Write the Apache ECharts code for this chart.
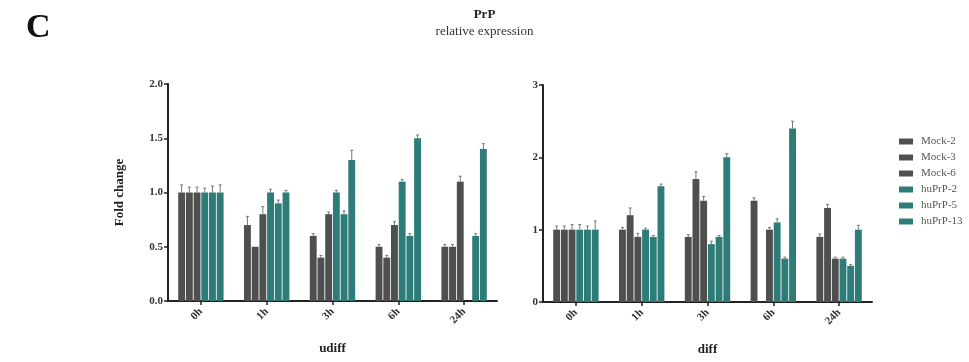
<!DOCTYPE html>
<html>
<head>
<meta charset="utf-8">
<script src="https://cdn.jsdelivr.net/npm/echarts@6/dist/echarts.min.js"></script>
<style>
  html, body { margin: 0; padding: 0; background: #fff; }
  #chart { width: 969px; height: 362px; }
</style>
</head>
<body>
<div id="chart"></div>
<script>
const categories = ['0h', '1h', '3h', '6h', '24h']
const seriesNames = ['Mock-2', 'Mock-3', 'Mock-6', 'huPrP-2', 'huPrP-5', 'huPrP-13']

// udiff (left panel)
const udiffValues = [
  [1.0, 0.7, 0.6, 0.5, 0.5], // Mock-2
  [1.0, 0.5, 0.4, 0.4, 0.5], // Mock-3
  [1.0, 0.8, 0.8, 0.7, 1.1], // Mock-6
  [1.0, 1.0, 1.0, 1.1, null], // huPrP-2
  [1.0, 0.9, 0.8, 0.6, 0.6], // huPrP-5
  [1.0, 1.0, 1.3, 1.5, 1.4] // huPrP-13
]
const udiffErrors = [
  [0.07, 0.08, 0.02, 0.02, 0.02],
  [0.05, 0.0, 0.02, 0.02, 0.02],
  [0.05, 0.07, 0.02, 0.03, 0.05],
  [0.04, 0.03, 0.02, 0.02, 0.0],
  [0.06, 0.03, 0.03, 0.02, 0.02],
  [0.07, 0.02, 0.09, 0.03, 0.05]
]

// diff (right panel)
const diffValues = [
  [1.0, 1.0, 0.9, 1.4, 0.9],
  [1.0, 1.2, 1.7, null, 1.3],
  [1.0, 0.9, 1.4, 1.0, 0.6],
  [1.0, 1.0, 0.8, 1.1, 0.6],
  [1.0, 0.9, 0.9, 0.6, 0.5],
  [1.0, 1.6, 2.0, 2.4, 1.0]
]
const diffErrors = [
  [0.05, 0.03, 0.03, 0.04, 0.04],
  [0.05, 0.1, 0.1, 0.0, 0.05],
  [0.07, 0.05, 0.06, 0.03, 0.02],
  [0.07, 0.02, 0.04, 0.05, 0.02],
  [0.05, 0.02, 0.02, 0.02, 0.02],
  [0.12, 0.03, 0.05, 0.1, 0.06]
]

const leftTicks = [0, 0.5, 1.0, 1.5, 2.0]
const rightTicks = [0, 1, 2, 3]

const GRAY = '#4f4f4f'
const TEAL = '#2e7c77'
const colors = [GRAY, GRAY, GRAY, TEAL, TEAL, TEAL]
const FONT = '"Liberation Serif", "DejaVu Serif", serif'
const CAT_GAP = 0.31
const BAR_GAP = 0.12

function errorSeries (values, errors, i, axisIdx) {
  const data = []
  values[i].forEach((v, c) => {
    if (v !== null && errors[i][c] > 0) data.push([c, v, errors[i][c]])
  })
  return {
    type: 'custom',
    xAxisIndex: axisIdx,
    yAxisIndex: axisIdx,
    silent: true,
    z: 1,
    data: data,
    renderItem (params, api) {
      const c = api.value(0)
      const v = api.value(1)
      const e = api.value(2)
      const base = api.coord([c, v])
      const top = api.coord([c, v + e])
      const band = api.size([1, 0])[0]
      const groupW = band * (1 - CAT_GAP)
      const w = groupW / (6 + 5 * BAR_GAP)
      const x = base[0] - groupW / 2 + w / 2 + i * w * (1 + BAR_GAP)
      const style = { stroke: '#777', lineWidth: 1 }
      return {
        type: 'group',
        children: [
          { type: 'line', shape: { x1: x, y1: base[1], x2: x, y2: top[1] }, style },
          { type: 'line', shape: { x1: x - 1.5, y1: top[1], x2: x + 1.5, y2: top[1] }, style }
        ]
      }
    }
  }
}

const axisLine = { show: true, lineStyle: { color: '#222', width: 2 } }
const tickLabel = { color: '#333', fontFamily: FONT, fontWeight: 'bold', fontSize: 11 }

function xAxis (idx, name) {
  return {
    type: 'category',
    gridIndex: idx,
    data: categories,
    name: name,
    nameLocation: 'middle',
    nameGap: 41,
    nameTextStyle: { color: '#222', fontFamily: FONT, fontWeight: 'bold', fontSize: 13 },
    axisLine: axisLine,
    axisTick: { show: true, alignWithLabel: true, length: 4, lineStyle: { color: '#222', width: 1.5 } },
    axisLabel: Object.assign({ rotate: 45, margin: 9 }, tickLabel)
  }
}

function yAxis (idx, ticks, fmt, name) {
  return {
    type: 'value',
    gridIndex: idx,
    min: ticks[0],
    max: ticks[ticks.length - 1],
    interval: ticks[1] - ticks[0],
    name: name,
    nameLocation: 'middle',
    nameRotate: 90,
    nameGap: 42,
    nameTextStyle: { color: '#222', fontFamily: FONT, fontWeight: 'bold', fontSize: 13 },
    axisLine: axisLine,
    axisTick: { show: true, length: 4, lineStyle: { color: '#222', width: 1.5 } },
    splitLine: { show: false },
    axisLabel: Object.assign({ margin: 5, formatter: fmt }, tickLabel)
  }
}

const series = []
seriesNames.forEach((name, i) => {
  series.push({
    name: name,
    type: 'bar',
    xAxisIndex: 0,
    yAxisIndex: 0,
    data: udiffValues[i],
    itemStyle: { color: colors[i] },
    barGap: (BAR_GAP * 100) + '%',
    barCategoryGap: (CAT_GAP * 100) + '%'
  })
  series.push({
    name: name,
    type: 'bar',
    xAxisIndex: 1,
    yAxisIndex: 1,
    data: diffValues[i],
    itemStyle: { color: colors[i] },
    barGap: (BAR_GAP * 100) + '%',
    barCategoryGap: (CAT_GAP * 100) + '%'
  })
})
seriesNames.forEach((name, i) => {
  series.push(errorSeries(udiffValues, udiffErrors, i, 0))
  series.push(errorSeries(diffValues, diffErrors, i, 1))
})

const chart = echarts.init(document.getElementById('chart'))
chart.setOption({
  animation: false,
  backgroundColor: '#fff',
  title: [
    {
      text: 'C',
      left: 21,
      top: 6,
      textStyle: { fontFamily: FONT, fontWeight: 'bold', fontSize: 34, color: '#111' }
    },
    {
      text: 'PrP',
      subtext: 'relative expression',
      left: 'center',
      top: 3,
      itemGap: 4,
      textStyle: { fontFamily: FONT, fontWeight: 'bold', fontSize: 13, color: '#222' },
      subtextStyle: { fontFamily: FONT, fontSize: 13, color: '#333' }
    }
  ],
  legend: {
    orient: 'vertical',
    left: 894,
    top: 131,
    itemWidth: 14,
    itemHeight: 6,
    itemGap: 5,
    icon: 'rect',
    data: seriesNames,
    textStyle: { fontFamily: FONT, fontSize: 11, color: '#555', padding: [0, 0, 0, 3] }
  },
  grid: [
    { left: 168, top: 84, width: 329, height: 217 },
    { left: 543, top: 85, width: 329, height: 217 }
  ],
  xAxis: [xAxis(0, 'udiff'), xAxis(1, 'diff')],
  yAxis: [
    yAxis(0, leftTicks, v => v.toFixed(1), 'Fold change'),
    yAxis(1, rightTicks, v => String(v), '')
  ],
  series: series
})
</script>
</body>
</html>
